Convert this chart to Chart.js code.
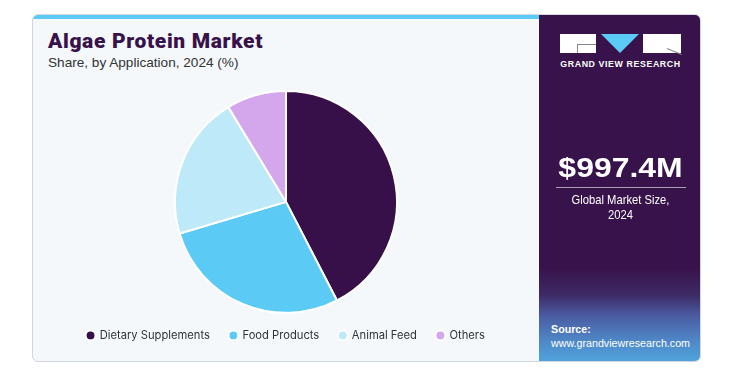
<!DOCTYPE html>
<html>
<head>
<meta charset="utf-8">
<script src="https://cdn.jsdelivr.net/npm/chart.js@4.4.0/dist/chart.umd.min.js"></script>
<style>
  html, body { margin: 0; padding: 0; background: #ffffff; }
  body { width: 733px; height: 373px; position: relative; overflow: hidden; font-family: "Liberation Sans", Arial, sans-serif; }
  #card { position: absolute; left: 32px; top: 14px; width: 669px; height: 348px; border: 1px solid #d3d6de; border-radius: 6px; background: #f4f8fb; box-sizing: border-box; overflow: hidden; }
  #topbar { position: absolute; left: 0; top: 0; width: 506px; height: 4px; background: #5bcbf5; }
  #side { position: absolute; left: 506px; top: 0; width: 163px; height: 348px;
    background: linear-gradient(to bottom, #38124a 0px, #38124a 252px, #3d2a66 280px, #4a5aa0 300px, #4f86c6 325px, #4fa6de 348px); }
  #title { position: absolute; left: 15px; top: 14px; font-family: "Roboto", sans-serif; font-weight: 900; font-size: 21px; letter-spacing: 0.65px; color: #38124a; }
  #subtitle { position: absolute; left: 15px; top: 40px; font-family: "Liberation Sans", Arial, sans-serif; font-size: 13.6px; color: #333; }
  #chartbox { position: absolute; left: 1px; top: 70px; width: 504px; height: 278px; }
  .logo { position: absolute; background: #fff; }
  .ln { position: absolute; background: #8a8296; }
  #tri { position: absolute; left: 62px; top: 19px; width: 0; height: 0; border-left: 19px solid transparent; border-right: 19px solid transparent; border-top: 19px solid #5bcbf5; }
  #brand { position: absolute; left: 0; width: 163px; top: 44px; text-align: center; color: #fff; font-weight: bold; font-size: 8.8px; letter-spacing: 0.6px; }
  #big { position: absolute; left: 0; width: 163px; top: 136px; text-align: center; color: #fff; font-weight: bold; font-size: 28.5px; font-family: "Liberation Sans", Arial, sans-serif; transform: scaleX(1.12); }
  #rule { position: absolute; left: 17px; width: 130px; top: 172px; height: 1px; background: #a9a2b4; }
  #desc { position: absolute; left: 0; width: 163px; top: 177px; text-align: center; color: #fff; font-family: "Liberation Sans", sans-serif; font-size: 13.5px; line-height: 15px; transform: scaleX(0.83); }
  #src { position: absolute; left: 12px; top: 307px; color: #fff; font-size: 10.7px; line-height: 14px; }
</style>
</head>
<body>
<div id="card">
  <div id="topbar"></div>
  <div id="title">Algae Protein Market</div>
  <div id="subtitle">Share, by Application, 2024 (%)</div>
  <div id="chartbox"><canvas id="pie"></canvas></div>
  <div id="side">
    <div class="logo" style="left:21px;top:19px;width:36px;height:19px;"></div>
    <div class="ln" style="left:38px;top:29px;width:19px;height:1px;"></div>
    <div class="ln" style="left:38px;top:29px;width:1px;height:9px;"></div>
    <div id="tri"></div>
    <div class="logo" style="left:104px;top:19px;width:38px;height:19px;"></div>
    <div class="ln" style="left:128px;top:33px;width:16px;height:1px;transform:rotate(22deg);transform-origin:0 0;"></div>
    <div id="brand">GRAND VIEW RESEARCH</div>
    <div id="big">$997.4M</div>
    <div id="rule"></div>
    <div id="desc">Global Market Size,<br>2024</div>
    <div id="src"><b>Source:</b><br>www.grandviewresearch.com</div>
  </div>
</div>
<script>
// данные графика
const categories = ['Dietary Supplements', 'Food Products', 'Animal Feed', 'Others'];
const shares = [42.4, 28.0, 20.9, 8.7];
const sliceColors = ['#37104a', '#5bcbf5', '#bde9f8', '#d4a6ec'];

const ctx = document.getElementById('pie').getContext('2d');
const pieChart = new Chart(ctx, {
  type: 'pie',
  data: {
    labels: categories,
    datasets: [{
      data: shares,
      backgroundColor: sliceColors,
      borderColor: '#ffffff',
      borderWidth: 2,
      radius: '103.8%'
    }]
  },
  options: {
    responsive: true,
    maintainAspectRatio: false,
    animation: false,
    layout: { padding: { top: 9, bottom: 12 } },
    plugins: {
      tooltip: { enabled: false },
      legend: {
        position: 'bottom',
        labels: {
          usePointStyle: true,
          pointStyle: 'circle',
          boxWidth: 7,
          boxHeight: 7,
          padding: 20,
          color: '#333333',
          font: { family: 'Inter', size: 11.2 }
        }
      }
    }
  }
});
</script>
</body>
</html>
